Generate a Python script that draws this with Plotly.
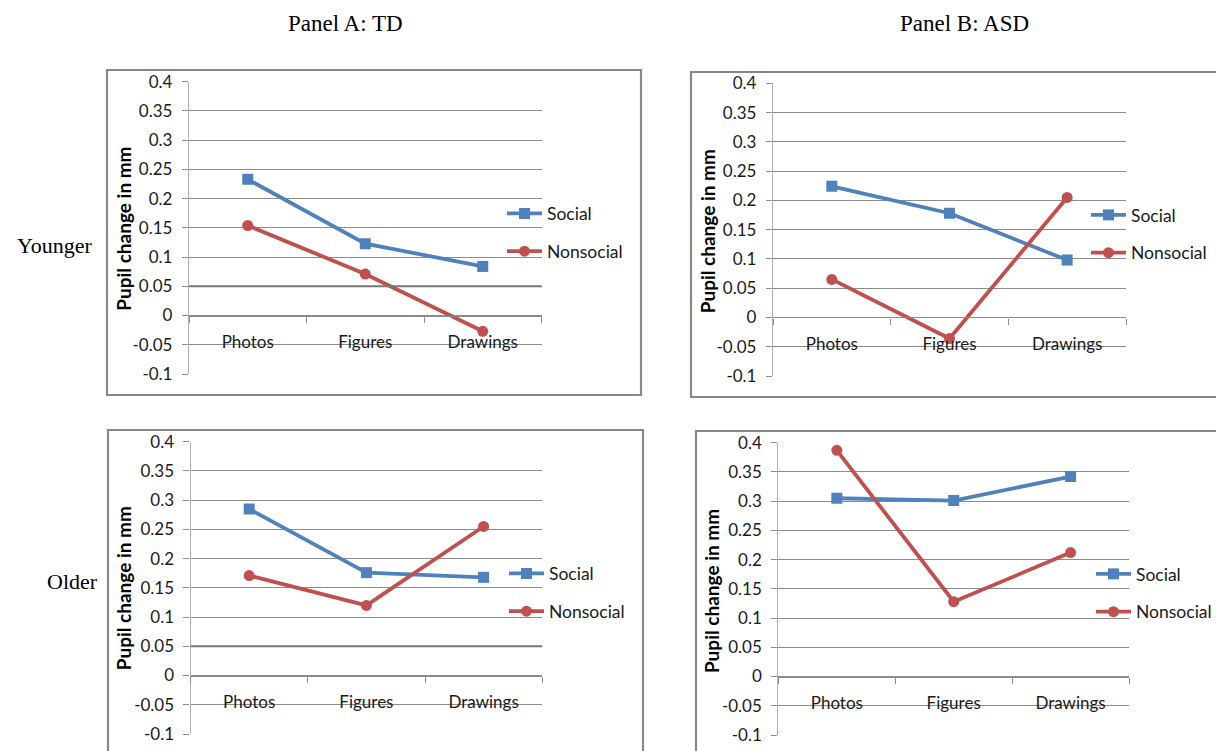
import plotly.graph_objects as go

# ---------------- data ----------------
categories = ["Photos", "Figures", "Drawings"]

td_younger_social = [0.233, 0.123, 0.084]
td_younger_nonsocial = [0.154, 0.071, -0.027]
asd_younger_social = [0.224, 0.178, 0.098]
asd_younger_nonsocial = [0.065, -0.036, 0.205]
td_older_social = [0.285, 0.176, 0.168]
td_older_nonsocial = [0.171, 0.120, 0.255]
asd_older_social = [0.305, 0.301, 0.342]
asd_older_nonsocial = [0.387, 0.128, 0.212]

y_tick_values = [0.4, 0.35, 0.3, 0.25, 0.2, 0.15, 0.1, 0.05, 0, -0.05, -0.1]
y_tick_labels = ["0.4", "0.35", "0.3", "0.25", "0.2", "0.15", "0.1", "0.05", "0", "-0.05", "-0.1"]

series_names = ["Social", "Nonsocial"]
panel_titles = ["Panel A: TD", "Panel B: ASD"]
row_titles = ["Younger", "Older"]
y_title = "Pupil change in mm"

# ---------------- layout helpers ----------------
W, H = 1216, 751
Y_MIN, Y_MAX = -0.1, 0.4


def fx(px):
    return px / W


def fy(py):
    return 1 - py / H


BLUE = "#4F81BD"
RED = "#C0504D"
GRID = "#8c8c8c"
TXT = "#1a1a1a"
FONT = "Lato"

panels = [
    dict(s=td_younger_social, n=td_younger_nonsocial, area=(189, 541.5, 81.7, 374),
         frame=(107, 641, 70, 395), ytc=(123.2, 228.5), leg=(502, 232.5), ref005=True),
    dict(s=asd_younger_social, n=asd_younger_nonsocial, area=(773, 1126, 83.3, 376),
         frame=(691, 1230, 72, 397), ytc=(707.3, 231), leg=(1086, 234), ref005=False),
    dict(s=td_older_social, n=td_older_nonsocial, area=(190.6, 542.2, 441.7, 734),
         frame=(108, 643, 430, 770), ytc=(123.8, 588.5), leg=(504, 592.5), ref005=True),
    dict(s=asd_older_social, n=asd_older_nonsocial, area=(778.4, 1129, 442.7, 735),
         frame=(696, 1230, 431, 770), ytc=(711.4, 590.7), leg=(1091, 593), ref005=False),
]

fig = go.Figure()
layout = dict(
    width=W, height=H, margin=dict(l=0, r=0, t=0, b=0, autoexpand=False),
    paper_bgcolor="white", plot_bgcolor="white",
    font=dict(family=FONT, size=16, color=TXT),
    shapes=[], annotations=[],
)

for i, p in enumerate(panels):
    k = "" if i == 0 else str(i + 1)
    xa, ya = "x" + k, "y" + k
    leg = "legend" + k
    x0, x1, yt, yb = p["area"]
    ydom = [fy(yb), fy(yt)]
    zero_pos = ydom[0] + (0 - Y_MIN) / (Y_MAX - Y_MIN) * (ydom[1] - ydom[0])

    for name, vals, color, sym in [(series_names[0], p["s"], BLUE, "square"),
                                   (series_names[1], p["n"], RED, "circle")]:
        fig.add_trace(go.Scatter(
            x=categories, y=vals, name=name, mode="lines+markers",
            xaxis=xa, yaxis=ya, legend=leg, legendgroup=f"{name}{i}",
            line=dict(color=color, width=3.8),
            marker=dict(symbol=sym, size=11, color=color),
        ))

    layout["xaxis" + k] = dict(
        domain=[fx(x0), fx(x1)], anchor="free", position=zero_pos,
        type="category", range=[-0.5, 2.5],
        showline=True, linecolor=GRID, linewidth=1.3,
        ticks="outside", tickson="boundaries", ticklen=6, tickcolor=GRID, tickwidth=1.3,
        showgrid=False, ticklabelstandoff=11,
        tickfont=dict(family=FONT, size=17, color=TXT), fixedrange=True,
    )
    layout["yaxis" + k] = dict(
        domain=ydom, anchor=xa, range=[Y_MIN, Y_MAX],
        tickvals=y_tick_values, ticktext=y_tick_labels,
        showgrid=True, gridcolor=GRID, gridwidth=1.1, zeroline=False,
        showline=True, linecolor="#b0b0b0", linewidth=1.3,
        ticks="outside", ticklen=6, tickcolor=GRID, tickwidth=1.1,
        ticklabelstandoff=6,
        tickfont=dict(family=FONT, size=17, color=TXT), fixedrange=True,
    )
    lx, lyc = p["leg"]
    layout[leg] = dict(
        x=fx(lx), y=fy(lyc), xanchor="left", yanchor="middle",
        bgcolor="rgba(0,0,0,0)", borderwidth=0, tracegroupgap=12,
        itemwidth=35,
        font=dict(family=FONT, size=17.5, color=TXT),
    )

    fxa, fxb, fya, fyb = p["frame"]
    layout["shapes"].append(dict(
        type="rect", xref="paper", yref="paper",
        x0=fx(fxa), x1=fx(fxb), y0=fy(fyb), y1=fy(fya),
        line=dict(color="#888888", width=2.2), layer="below",
    ))
    if p["ref005"]:
        layout["shapes"].append(dict(
            type="line", xref=xa + " domain", yref=ya,
            x0=0, x1=1, y0=0.05, y1=0.05,
            line=dict(color="#777777", width=2),
        ))
    tx, ty = p["ytc"]
    layout["annotations"].append(dict(
        text="<b>" + y_title + "</b>", xref="paper", yref="paper",
        x=fx(tx), y=fy(ty), xanchor="center", yanchor="middle",
        textangle=-90, showarrow=False,
        font=dict(family=FONT, size=19, color="black"),
    ))

SERIF = "Liberation Serif"
for txt, (px, py) in zip(panel_titles, [(345.5, 23), (964.5, 23)]):
    layout["annotations"].append(dict(
        text=txt, xref="paper", yref="paper", x=fx(px), y=fy(py),
        xanchor="center", yanchor="middle", showarrow=False,
        font=dict(family=SERIF, size=23, color="black"),
    ))
for txt, (px, py) in zip(row_titles, [(54, 245.5), (72, 581)]):
    layout["annotations"].append(dict(
        text=txt, xref="paper", yref="paper", x=fx(px), y=fy(py),
        xanchor="center", yanchor="middle", showarrow=False,
        font=dict(family=SERIF, size=22, color="black"),
    ))

fig.update_layout(**layout)
fig.write_html("out.html")
